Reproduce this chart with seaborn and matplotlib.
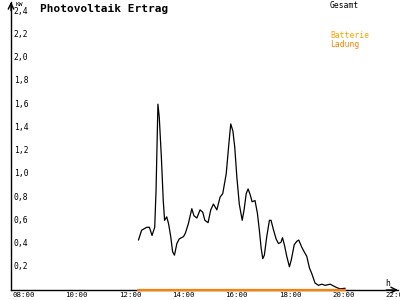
import matplotlib
matplotlib.use("Agg")
import matplotlib.pyplot as plt
import matplotlib.transforms as mtransforms
import seaborn as sns
import pandas as pd

# ---- data ----
hours = [12.59, 12.71, 12.90, 13.00, 13.10, 13.20, 13.25, 13.32, 13.37, 13.45,
         13.52, 13.57, 13.65, 13.72, 13.80, 13.87, 13.94, 14.03, 14.12, 14.28,
         14.35, 14.46, 14.59, 14.67, 14.78, 14.90, 15.00, 15.08, 15.20, 15.30,
         15.40, 15.53, 15.65, 15.75, 15.88, 15.98, 16.05, 16.13, 16.20, 16.28,
         16.37, 16.48, 16.55, 16.63, 16.70, 16.78, 16.85, 16.96, 17.05, 17.12,
         17.19, 17.25, 17.31, 17.40, 17.50, 17.56, 17.65, 17.75, 17.84, 17.93,
         17.99, 18.06, 18.15, 18.25, 18.32, 18.43, 18.53, 18.60, 18.71, 18.80,
         18.90, 19.00, 19.09, 19.21, 19.34, 19.46, 19.59, 19.78, 19.90, 20.03,
         20.15, 20.34]
gesamt = [0.43, 0.515, 0.54, 0.54, 0.47, 0.54, 0.86, 1.60, 1.49, 1.14,
          0.77, 0.60, 0.63, 0.57, 0.46, 0.33, 0.30, 0.40, 0.44, 0.46,
          0.49, 0.57, 0.70, 0.64, 0.62, 0.69, 0.67, 0.60, 0.58, 0.69,
          0.74, 0.69, 0.80, 0.83, 1.00, 1.26, 1.43, 1.37, 1.23, 0.97,
          0.74, 0.60, 0.69, 0.83, 0.87, 0.82, 0.76, 0.77, 0.66, 0.52,
          0.36, 0.27, 0.30, 0.46, 0.60, 0.60, 0.52, 0.44, 0.40, 0.41,
          0.45, 0.39, 0.29, 0.20, 0.26, 0.39, 0.42, 0.43, 0.37, 0.33,
          0.29, 0.19, 0.14, 0.06, 0.04, 0.05, 0.04, 0.05, 0.035, 0.02,
          0.01, 0.015]
ladung = [0.0] * len(hours)

x_ticks = [8, 10, 12, 14, 16, 18, 20, 22]
x_labels = ["08:00", "10:00", "12:00", "14:00", "16:00", "18:00", "20:00", "22:00"]
y_ticks = [0.2, 0.4, 0.6, 0.8, 1.0, 1.2, 1.4, 1.6, 1.8, 2.0, 2.2, 2.4]
y_labels = ["0,2", "0,4", "0,6", "0,8", "1,0", "1,2", "1,4", "1,6", "1,8", "2,0", "2,2", "2,4"]

df = pd.DataFrame({"h": hours, "Gesamt": gesamt, "Ladung": ladung})

sns.set_style("white")
plt.rcParams["font.family"] = ["DejaVu Sans Mono", "DejaVu Sans"]
plt.rcParams["text.color"] = "black"
plt.rcParams["xtick.color"] = "black"
plt.rcParams["ytick.color"] = "black"

fig = plt.figure(figsize=(4, 3), dpi=100)
ax = fig.add_axes([11 / 400, 10 / 300, 387 / 400, 288 / 300])

sns.lineplot(data=df, x="h", y="Gesamt", ax=ax, color="black", linewidth=0.9,
             estimator=None, sort=False)
sns.lineplot(data=df, x="h", y="Ladung", ax=ax, color="#ff8000", linewidth=1.6,
             estimator=None, sort=False, clip_on=False, zorder=5)

ax.set_xlim(7.8125, 22.32)
ax.set_ylim(0, 2.48)
ax.set_xlabel("")
ax.set_ylabel("")

for s in ["top", "right"]:
    ax.spines[s].set_visible(False)
for s in ["left", "bottom"]:
    ax.spines[s].set_color("black")
    ax.spines[s].set_linewidth(1.0)

ax.set_xticks(x_ticks)
ax.set_xticklabels(x_labels, fontsize=5.3, color="black")
ax.set_yticks(y_ticks)
ax.set_yticklabels(y_labels, fontsize=5.8, color="black")
ax.tick_params(axis="both", direction="inout", length=6, width=1, color="black")
ax.tick_params(axis="x", pad=0)
ax.tick_params(axis="y", pad=-5)

offx = mtransforms.ScaledTranslation(-4 / 100, 2.5 / 100, fig.dpi_scale_trans)
for lab in ax.get_xticklabels():
    lab.set_horizontalalignment("left")
    lab.set_transform(lab.get_transform() + offx)
for lab in ax.get_yticklabels():
    lab.set_horizontalalignment("left")
    lab.set_verticalalignment("center")

# axis arrows
ax.annotate("", xy=(1.0, 0), xytext=(0.97, 0), xycoords="axes fraction",
            arrowprops=dict(arrowstyle="->", color="black", lw=1, shrinkA=0, shrinkB=0))
ax.annotate("", xy=(0, 1.0), xytext=(0, 0.97), xycoords="axes fraction",
            arrowprops=dict(arrowstyle="->", color="black", lw=1, shrinkA=0, shrinkB=0))

fig.text(40 / 400, 1 - 9 / 300, "Photovoltaik Ertrag", fontsize=8, fontweight="bold",
         ha="left", va="center", color="black")
fig.text(16 / 400, 1 - 4 / 300, "KW", fontsize=4.5, ha="left", va="center", color="black")
fig.text(330 / 400, 1 - 5 / 300, "Gesamt", fontsize=5.8, ha="left", va="center", color="black")
fig.text(330 / 400, 1 - 36 / 300, "Batterie", fontsize=5.8, ha="left", va="center", color="#ffa500")
fig.text(330 / 400, 1 - 44 / 300, "Ladung", fontsize=5.8, ha="left", va="center", color="#ff8000")
fig.text(385 / 400, 1 - 283 / 300, "h", fontsize=5.8, ha="left", va="center", color="black")

fig.savefig("out.png", dpi=100, facecolor="white")
